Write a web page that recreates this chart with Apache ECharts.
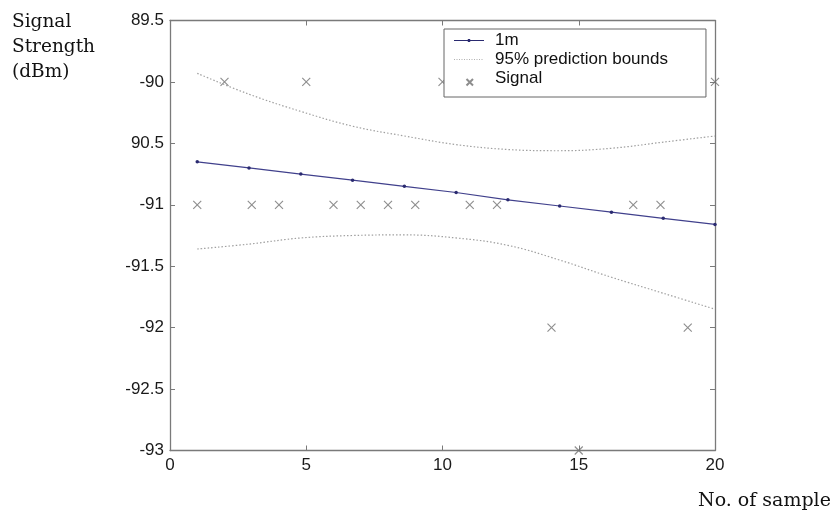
<!DOCTYPE html>
<html>
<head>
<meta charset="utf-8">
<script src="https://cdn.jsdelivr.net/npm/echarts@6/dist/echarts.min.js"></script>
<style>html,body{margin:0;padding:0;background:#fff}#c{width:834px;height:521px}</style>
</head>
<body>
<div id="c"></div>
<script>
// ---- data ----
const fitX = [1, 2.9, 4.8, 6.7, 8.6, 10.5, 12.4, 14.3, 16.2, 18.1, 20];
const fitY = [-90.65, -90.70, -90.75, -90.80, -90.85, -90.90, -90.96, -91.01, -91.06, -91.11, -91.16];
const upperY = [-89.93, -90.10, -90.24, -90.36, -90.44, -90.51, -90.55, -90.56, -90.54, -90.49, -90.44];
const lowerY = [-91.36, -91.32, -91.27, -91.25, -91.245, -91.27, -91.33, -91.45, -91.59, -91.72, -91.85];
const sampleX = [1, 2, 3, 4, 5, 6, 7, 8, 9, 10, 11, 12, 13, 14, 15, 16, 17, 18, 19, 20];
const signalY = [-91, -90, -91, -91, -90, -91, -91, -91, -91, -90, -91, -91, -90, -92, -93, -90, -91, -91, -92, -90];
const yTickLabels = ['-93', '-92.5', '-92', '-91.5', '-91', '90.5', '-90', '89.5'];
const xTickLabels = ['0', '5', '10', '15', '20'];

const chart = echarts.init(document.getElementById('c'), null, {renderer: 'canvas'});
const axisColor = '#7a7a7a';
const tickFont = {fontFamily: 'Liberation Sans, Arial', fontSize: 17, color: '#1a1a1a'};
const serif = 'DejaVu Serif, serif';

const pair = (xs, ys) => xs.map((x, i) => [x, ys[i]]);

// legend icons (30 x 14 box)
let dots = 'path://M0,0M30,14';
for (let i = 0; i < 30; i += 2.5) dots += 'M' + i + ',6.6h1v0.9h-1Z';
const iconFit = 'path://M0,0M30,14M0,6.5L30,6.5L30,7.5L0,7.5ZM13.8,5.5h2.4v3h-2.4Z';
const iconX = 'path://M0,0M30,14M12.5,7.5L19,14M19,7.5L12.5,14';

chart.setOption({
  animation: false,
  backgroundColor: '#fff',
  grid: {left: 170, right: 119, top: 20.5, bottom: 70.5, containLabel: false},
  xAxis: [{
    type: 'value', min: 0, max: 20, interval: 5, position: 'bottom',
    axisLine: {show: true, lineStyle: {color: axisColor, width: 1.3}},
    axisTick: {show: true, inside: true, length: 5, lineStyle: {color: axisColor}},
    splitLine: {show: false},
    axisLabel: Object.assign({margin: 6, formatter: v => xTickLabels[Math.round(v / 5)]}, tickFont)
  }, {
    type: 'value', min: 0, max: 20, interval: 5, position: 'top',
    axisLine: {show: true, onZero: false, lineStyle: {color: axisColor, width: 1.3}},
    axisTick: {show: true, inside: true, length: 5, lineStyle: {color: axisColor}},
    splitLine: {show: false}, axisLabel: {show: false}
  }],
  yAxis: [{
    type: 'value', min: -93, max: -89.5, interval: 0.5, position: 'left',
    axisLine: {show: true, onZero: false, lineStyle: {color: axisColor, width: 1.3}},
    axisTick: {show: true, inside: true, length: 5, lineStyle: {color: axisColor}},
    splitLine: {show: false},
    axisLabel: Object.assign({margin: 6, formatter: v => yTickLabels[Math.round((v + 93) / 0.5)]}, tickFont)
  }, {
    type: 'value', min: -93, max: -89.5, interval: 0.5, position: 'right',
    axisLine: {show: true, onZero: false, lineStyle: {color: axisColor, width: 1.3}},
    axisTick: {show: true, inside: true, length: 5, lineStyle: {color: axisColor}},
    splitLine: {show: false}, axisLabel: {show: false}
  }],
  legend: {
    orient: 'vertical', left: 444, top: 29,
    backgroundColor: '#fff', borderColor: '#666', borderWidth: 1,
    padding: [3, 38, 10, 9], itemGap: 2, itemWidth: 30, itemHeight: 14,
    textStyle: {fontFamily: 'Liberation Sans, Arial', fontSize: 17, color: '#111', lineHeight: 17, padding: [0, 0, 0, 6]},
    data: [
      {name: '1m', icon: iconFit},
      {name: '95% prediction bounds', icon: dots},
      {name: 'Signal', icon: iconX}
    ]
  },
  series: [
    {
      name: '1m', type: 'line', data: pair(fitX, fitY),
      symbol: 'circle', symbolSize: 3.5, z: 3,
      lineStyle: {color: '#40408c', width: 1.2},
      itemStyle: {color: '#2a2a70'}
    },
    {
      name: '95% prediction bounds', type: 'line', data: pair(fitX, upperY),
      symbol: 'none', smooth: 0.4,
      lineStyle: {color: '#a0a0a0', width: 1.2, type: [1.5, 2]},
      itemStyle: {color: '#b0b0b0'}
    },
    {
      name: '95% prediction bounds', type: 'line', data: pair(fitX, lowerY),
      symbol: 'none', smooth: 0.4,
      lineStyle: {color: '#a0a0a0', width: 1.2, type: [1.5, 2]},
      itemStyle: {color: '#b0b0b0'}
    },
    {
      name: 'Signal', type: 'scatter', data: pair(sampleX, signalY),
      symbol: 'path://M0,0L10,10M10,0L0,10', symbolSize: 8,
      itemStyle: {color: 'rgba(0,0,0,0)', borderColor: '#707070', borderWidth: 1.1}
    }
  ],
  graphic: [
    {type: 'text', left: 12, top: 10, style: {text: 'Signal\nStrength\n(dBm)', font: '18.5px ' + serif, fill: '#111', lineHeight: 25}},
    {type: 'text', left: 698, top: 492, style: {text: 'No. of sample', font: '19px ' + serif, fill: '#111'}}
  ]
});
</script>
</body>
</html>
